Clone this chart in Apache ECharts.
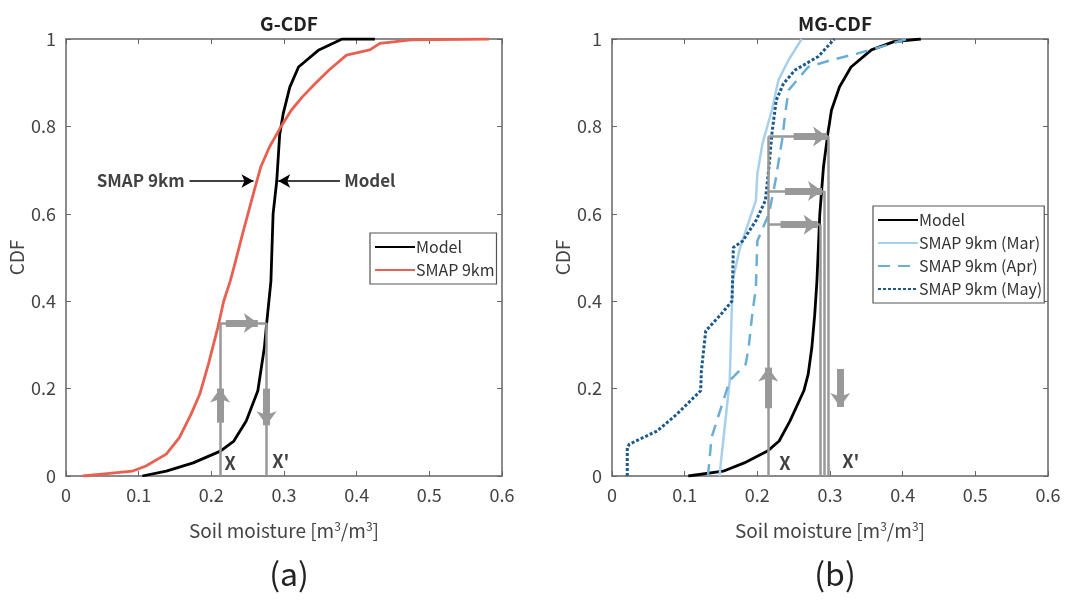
<!DOCTYPE html>
<html>
<head>
<meta charset="utf-8">
<script src="https://cdn.jsdelivr.net/npm/echarts@6/dist/echarts.min.js"></script>
<style>
  html, body { margin: 0; padding: 0; background: #fff; }
  #main { width: 1071px; height: 604px; }
</style>
</head>
<body>
<div id="main"></div>
<script>
// 数据
var xTicks = [0, 0.1, 0.2, 0.3, 0.4, 0.5, 0.6];
var yTicks = [0, 0.2, 0.4, 0.6, 0.8, 1];

// (a) G-CDF
var modelA = [[0.105,0],[0.138,0.011],[0.175,0.03],[0.2125,0.057],[0.231,0.08],[0.248,0.126],[0.264,0.195],[0.273,0.294],[0.276,0.347],[0.282,0.446],[0.285,0.6],[0.29,0.675],[0.294,0.78],[0.299,0.83],[0.308,0.89],[0.32,0.936],[0.348,0.975],[0.38,1],[0.425,1]];
var smapA = [[0.023,0],[0.053,0.005],[0.091,0.011],[0.11,0.023],[0.138,0.05],[0.156,0.088],[0.172,0.141],[0.184,0.187],[0.196,0.256],[0.209,0.34],[0.217,0.4],[0.226,0.446],[0.231,0.477],[0.243,0.554],[0.259,0.653],[0.268,0.707],[0.28,0.753],[0.296,0.8],[0.31,0.837],[0.325,0.867],[0.343,0.898],[0.362,0.929],[0.386,0.963],[0.418,0.975],[0.432,0.99],[0.475,0.998],[0.582,1]];

// (b) MG-CDF
var modelB = [[0.105,0],[0.153,0.011],[0.182,0.03],[0.214,0.057],[0.23,0.08],[0.245,0.126],[0.264,0.195],[0.27,0.233],[0.275,0.294],[0.279,0.37],[0.282,0.446],[0.286,0.6],[0.291,0.707],[0.297,0.783],[0.302,0.837],[0.313,0.89],[0.329,0.936],[0.357,0.975],[0.388,0.994],[0.425,1]];
var smapMar = [[0.148,0],[0.15,0.034],[0.153,0.08],[0.157,0.141],[0.162,0.218],[0.164,0.332],[0.166,0.446],[0.175,0.515],[0.184,0.561],[0.198,0.63],[0.2,0.691],[0.207,0.76],[0.22,0.837],[0.229,0.906],[0.243,0.952],[0.261,1]];
var smapApr = [[0.132,0],[0.134,0.034],[0.137,0.088],[0.15,0.156],[0.162,0.218],[0.184,0.256],[0.188,0.294],[0.193,0.37],[0.198,0.43],[0.2,0.538],[0.216,0.6],[0.225,0.676],[0.234,0.768],[0.239,0.837],[0.243,0.883],[0.27,0.936],[0.302,0.952],[0.338,0.967],[0.37,0.982],[0.406,1]];
var smapMay = [[0.021,0],[0.021,0.065],[0.024,0.073],[0.062,0.103],[0.089,0.141],[0.122,0.195],[0.123,0.241],[0.129,0.332],[0.15,0.37],[0.165,0.4],[0.166,0.446],[0.167,0.523],[0.18,0.538],[0.198,0.584],[0.211,0.63],[0.216,0.707],[0.22,0.783],[0.226,0.86],[0.236,0.898],[0.252,0.929],[0.284,0.96],[0.306,1]];

// 映射线与箭头
var mapLinesA = [[[0.212,0],[0.212,0.35]],[[0.212,0.35],[0.276,0.35]],[[0.276,0.35],[0.276,0]]];
var bigArrowsA = [[[0.212,0.122],[0.212,0.2]],[[0.22,0.35],[0.264,0.35]],[[0.276,0.2],[0.276,0.116]]];
var mapLinesB = [[[0.215,0],[0.215,0.777]],
  [[0.215,0.777],[0.298,0.777]],[[0.298,0.777],[0.298,0]],
  [[0.215,0.652],[0.292,0.652]],[[0.292,0.652],[0.292,0]],
  [[0.215,0.575],[0.286,0.575]],[[0.286,0.575],[0.286,0]]];
var bigArrowsB = [[[0.215,0.155],[0.215,0.248]],[[0.25,0.777],[0.296,0.777]],[[0.238,0.652],[0.289,0.652]],[[0.232,0.575],[0.283,0.575]],[[0.314,0.245],[0.314,0.158]]];
var pointerArrowsA = [[[0.17,0.675],[0.258,0.675]],[[0.377,0.675],[0.292,0.675]]];

var textsA = [{value:[0.218,0.03], name:'X'},{value:[0.284,0.035], name:"X'"}];
var textsB = [{value:[0.23,0.03], name:'X'},{value:[0.317,0.035], name:"X'"}];
var pointerTextsA = [{value:[0.166,0.675], name:'SMAP 9km', pos:'left'},{value:[0.38,0.675], name:'Model', pos:'right'}];

var FONT = 'Noto Sans CJK KR';
var chart = echarts.init(document.getElementById('main'));

function xAxisFor(gi) {
  return [{
    gridIndex: gi, type: 'value', min: 0, max: 0.6, interval: 0.1,
    axisLine: {show: true, onZero: false, lineStyle: {color: '#666', width: 1.5}},
    axisTick: {inside: true, length: 5, lineStyle: {color: '#666'}},
    axisLabel: {color: '#444', fontSize: 18, fontFamily: FONT, margin: 10,
      formatter: function (v) { return String(+v.toFixed(1)); }},
    splitLine: {show: false},
    name: 'Soil moisture [m{sup|3}/m{sup|3}]', nameLocation: 'middle', nameGap: 44,
    nameTextStyle: {color: '#444', fontSize: 19, fontFamily: FONT,
      rich: {sup: {fontSize: 12, verticalAlign: 'top', color: '#444', fontFamily: FONT, padding: [0,0,10,0]}}}
  }, {
    gridIndex: gi, type: 'value', min: 0, max: 0.6, interval: 0.1, position: 'top',
    axisLine: {show: true, onZero: false, lineStyle: {color: '#666', width: 1.5}},
    axisTick: {inside: true, length: 5, lineStyle: {color: '#666'}},
    axisLabel: {show: false}, splitLine: {show: false}
  }];
}
function yAxisFor(gi) {
  return [{
    gridIndex: gi, type: 'value', min: 0, max: 1, interval: 0.2,
    axisLine: {show: true, onZero: false, lineStyle: {color: '#666', width: 1.5}},
    axisTick: {inside: true, length: 5, lineStyle: {color: '#666'}},
    axisLabel: {color: '#444', fontSize: 18, fontFamily: FONT, margin: 10,
      formatter: function (v) { return String(+v.toFixed(1)); }},
    splitLine: {show: false},
    name: 'CDF', nameLocation: 'middle', nameGap: 40,
    nameTextStyle: {color: '#444', fontSize: 19, fontFamily: FONT}
  }, {
    gridIndex: gi, type: 'value', min: 0, max: 1, interval: 0.2, position: 'right',
    axisLine: {show: true, onZero: false, lineStyle: {color: '#666', width: 1.5}},
    axisTick: {inside: true, length: 5, lineStyle: {color: '#666'}},
    axisLabel: {show: false}, splitLine: {show: false}
  }];
}

function curve(name, data, xi, yi, color, width, type) {
  return {
    name: name, type: 'line', xAxisIndex: xi, yAxisIndex: yi, data: data,
    symbol: 'none', smooth: false, z: 3,
    lineStyle: {color: color, width: width, type: type || 'solid'},
    itemStyle: {color: color}
  };
}

function grayLines(segs, arrows, xi, yi) {
  return {
    type: 'line', xAxisIndex: xi, yAxisIndex: yi, data: [], z: 2,
    markLine: {
      silent: true, animation: false, precision: 4,
      label: {show: false},
      symbol: ['none', 'none'],
      lineStyle: {color: '#999', width: 2.5, type: 'solid'},
      data: segs.map(function (s) { return [{coord: s[0]}, {coord: s[1]}]; })
        .concat(arrows.map(function (s) {
          return [{coord: s[0], symbol: 'none'},
                  {coord: s[1], symbol: 'arrow', symbolSize: [15, 14],
                   lineStyle: {color: '#999', width: 7}}];
        }))
    }
  };
}

function texts(data, xi, yi) {
  return {
    type: 'scatter', xAxisIndex: xi, yAxisIndex: yi, symbolSize: 0, z: 5,
    data: data,
    label: {show: true, position: 'right', distance: 0, formatter: '{b}',
      color: '#111', fontSize: 18, fontWeight: 'bold', fontFamily: FONT}
  };
}

var legendBase = {
  orient: 'vertical', itemWidth: 40, itemHeight: 14, itemGap: 7, padding: [6, 2, 6, 4],
  backgroundColor: '#fff', borderColor: '#555', borderWidth: 1.2, borderRadius: 0,
  itemStyle: {opacity: 0},
  textStyle: {fontSize: 16, color: '#333', fontFamily: FONT, padding: [0, 0, 0, -4]}
};

var option = {
  backgroundColor: '#fff',
  animation: false,
  title: [
    {text: 'G-CDF', left: 284, top: 9, textAlign: 'center',
      textStyle: {fontSize: 19, fontWeight: 'bold', color: '#222', fontFamily: FONT}},
    {text: 'MG-CDF', left: 830, top: 9, textAlign: 'center',
      textStyle: {fontSize: 19, fontWeight: 'bold', color: '#222', fontFamily: FONT}},
    {text: '(a)', left: 284, top: 553, textAlign: 'center',
      textStyle: {fontSize: 32, fontWeight: 'normal', color: '#222', fontFamily: FONT}},
    {text: '(b)', left: 830, top: 553, textAlign: 'center',
      textStyle: {fontSize: 32, fontWeight: 'normal', color: '#222', fontFamily: FONT}}
  ],
  grid: [
    {left: 66, top: 39, width: 436, height: 437},
    {left: 612, top: 39, width: 436, height: 437}
  ],
  legend: [
    Object.assign({}, legendBase, {data: ['Model', 'SMAP 9km'], left: 370, top: 233}),
    Object.assign({}, legendBase, {data: ['Model', 'SMAP 9km (Mar)', 'SMAP 9km (Apr)', 'SMAP 9km (May)'],
      left: 873, top: 206})
  ],
  xAxis: xAxisFor(0).concat(xAxisFor(1)),
  yAxis: yAxisFor(0).concat(yAxisFor(1)),
  series: [
    grayLines(mapLinesA, bigArrowsA, 0, 0),
    curve('Model', modelA, 0, 0, '#000', 2.8),
    curve('SMAP 9km', smapA, 0, 0, '#e8604f', 2.8),
    {
      type: 'line', xAxisIndex: 0, yAxisIndex: 0, data: [], z: 4,
      markLine: {
        silent: true, animation: false, label: {show: false},
        symbol: ['none', 'arrow'], symbolSize: [10, 12],
        lineStyle: {color: '#000', width: 1.5, type: 'solid'},
        data: pointerArrowsA.map(function (s) { return [{coord: s[0]}, {coord: s[1]}]; })
      }
    },
    texts(textsA, 0, 0),
    {
      type: 'scatter', xAxisIndex: 0, yAxisIndex: 0, symbolSize: 0, z: 5,
      data: pointerTextsA.map(function (d) {
        return {value: d.value, name: d.name, label: {position: d.pos}};
      }),
      label: {show: true, distance: 2, formatter: '{b}', color: '#111', fontSize: 17,
        fontWeight: 'bold', fontFamily: FONT}
    },
    grayLines(mapLinesB, bigArrowsB, 2, 2),
    curve('Model', modelB, 2, 2, '#000', 2.8),
    curve('SMAP 9km (Mar)', smapMar, 2, 2, '#a9d0ea', 2.5),
    curve('SMAP 9km (Apr)', smapApr, 2, 2, '#6aaed6', 2.5, [12, 8]),
    curve('SMAP 9km (May)', smapMay, 2, 2, '#1b5a8c', 3, [3, 2]),
    texts(textsB, 2, 2)
  ]
};
chart.setOption(option);
</script>
</body>
</html>
